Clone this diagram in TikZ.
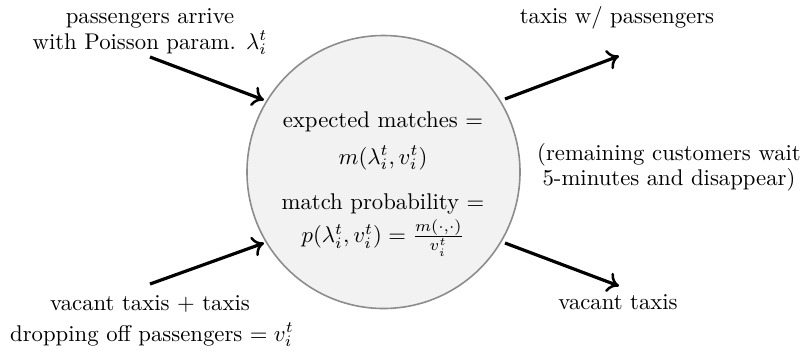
\documentclass[tikz,border=0pt]{standalone}
\usetikzlibrary{arrows.meta}
\begin{document}
\begin{tikzpicture}[x=0.44pt,y=-0.44pt,
  lbl/.style={inner sep=0pt, anchor=center},
  flow/.style={line width=1.4pt, -{To[length=5pt,width=9pt,line width=1.1pt]}},
  pool/.style={circle, draw=black!45, line width=0.7pt, fill=black!5, minimum size=273*0.44pt, inner sep=0pt}]
\useasboundingbox (0,0) rectangle (803,350);
\node[pool] (c) at (383.5,172) {};
% texts inside circle
\node[lbl] (t1) at (383,122) {expected matches $=$};
\node[lbl] (t2) at (383,158) {$m(\lambda_i^t, v_i^t)$};
\node[lbl] (t3) at (383,204) {match probability $=$};
\node[lbl] (t4) at (383,238) {$p(\lambda_i^t, v_i^t) = \frac{m(\cdot,\cdot)}{v_i^t}$};
% labels
\node[lbl] (a1) at (150,18) {passengers arrive};
\node[lbl] (a2) at (150,43) {with Poisson param. $\lambda_i^t$};
\node[lbl] (b1) at (150,304) {vacant taxis $+$ taxis};
\node[lbl] (b2) at (152,335) {dropping off passengers $= v_i^t$};
\node[lbl] (r1) at (617,18) {taxis w/ passengers};
\node[lbl] (r2) at (669,155) {(remaining customers wait};
\node[lbl] (r3) at (669,180) {5-minutes and disappear)};
\node[lbl] (r4) at (618,302) {vacant taxis};
% arrow endpoints
\coordinate (p1) at (150,57);
\coordinate (q1) at (264,100);
\coordinate (p2) at (150,284);
\coordinate (q2) at (264,243);
\coordinate (p3) at (505,99);
\coordinate (q3) at (619,56);
\coordinate (p4) at (505,243);
\coordinate (q4) at (619,286);
\draw[flow] (p1) -- (q1);
\draw[flow] (p2) -- (q2);
\draw[flow] (p3) -- (q3);
\draw[flow] (p4) -- (q4);
\end{tikzpicture}
\end{document}
